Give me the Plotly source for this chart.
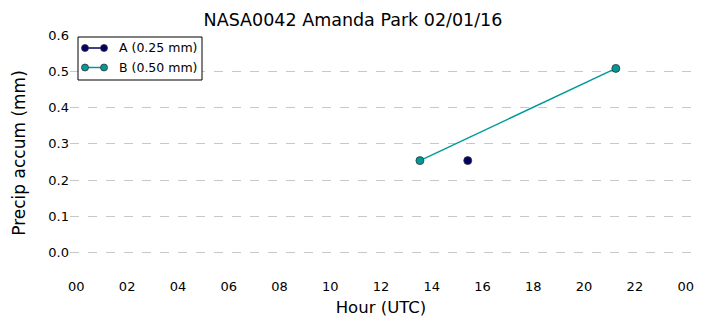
import plotly.graph_objects as go

# Precipitation accumulation, NASA0042 Amanda Park, 2016-02-01
a_times = ["2016-02-01 15:25"]
a_vals = [0.254]
b_times = ["2016-02-01 13:32", "2016-02-01 21:15"]
b_vals = [0.254, 0.508]

series_names = ["A (0.25 mm)", "B (0.50 mm)"]
series_colors = ["#000066", "#009999"]

y_ticks = [0.0, 0.1, 0.2, 0.3, 0.4, 0.5, 0.6]

font = "DejaVu Sans"
W, H = 706, 326
ML, MR, MT, MB = 70, 14, 35, 55
PW, PH = W - ML - MR, H - MT - MB

fig = go.Figure()
for times, vals, name, color in zip([a_times, b_times], [a_vals, b_vals],
                                    series_names, series_colors):
    fig.add_trace(go.Scatter(
        x=times, y=vals, mode="lines+markers", name=name, showlegend=False,
        line=dict(color=color, width=1.5),
        marker=dict(color=color, size=8, line=dict(color="#333333", width=0.8)),
    ))


def px(x):
    return (x - ML) / PW


def py(y):
    return (H - MB - y) / PH


# Boxed legend, two markers per entry
shapes = [dict(type="rect", xref="paper", yref="paper",
               x0=px(78), x1=px(202), y0=py(80), y1=py(37),
               line=dict(color="black", width=1), fillcolor="white", layer="above")]
annotations = []
for i, (name, color) in enumerate(zip(series_names, series_colors)):
    yc = 48 + 19.5 * i
    shapes.append(dict(type="line", xref="paper", yref="paper",
                       x0=px(85), x1=px(104), y0=py(yc), y1=py(yc),
                       line=dict(color=color, width=1.5), layer="above"))
    for xc in (85, 104):
        shapes.append(dict(type="circle", xref="paper", yref="paper",
                           x0=px(xc - 3.5), x1=px(xc + 3.5),
                           y0=py(yc + 3.5), y1=py(yc - 3.5),
                           fillcolor=color, line=dict(color="#333333", width=0.8),
                           layer="above"))
    annotations.append(dict(text=name, xref="paper", yref="paper",
                            x=px(117), y=py(yc), xanchor="left", yanchor="middle",
                            showarrow=False, font=dict(size=12.5, family=font)))

fig.update_layout(
    width=W, height=H,
    margin=dict(l=ML, r=MR, t=MT, b=MB),
    paper_bgcolor="white", plot_bgcolor="white",
    font=dict(family=font, size=13, color="black"),
    title=dict(text="NASA0042 Amanda Park 02/01/16", x=0.5, xanchor="center",
               y=0.94, yanchor="middle", font=dict(size=17.5, family=font)),
    xaxis=dict(
        type="date",
        range=["2016-01-31 23:45", "2016-02-02 00:15"],
        tickmode="linear", tick0="2016-02-01 00:00", dtick=2 * 3600 * 1000,
        tickformat="%H", showgrid=False, zeroline=False, showline=False,
        ticks="", ticklabelstandoff=6,
        title=dict(text="Hour (UTC)", font=dict(size=16.5), standoff=8),
        tickfont=dict(size=13),
    ),
    yaxis=dict(
        range=[-0.05, 0.6],
        tickvals=y_ticks, ticktext=[f"{v:.1f}" for v in y_ticks],
        showgrid=True, gridcolor="#c8c8c8", griddash="dash", gridwidth=1,
        zeroline=False, showline=False, ticks="",
        title=dict(text="Precip accum (mm)", font=dict(size=17), standoff=18),
        tickfont=dict(size=13),
    ),
    shapes=shapes,
    annotations=annotations,
    showlegend=False,
)

fig.write_html("out.html")
